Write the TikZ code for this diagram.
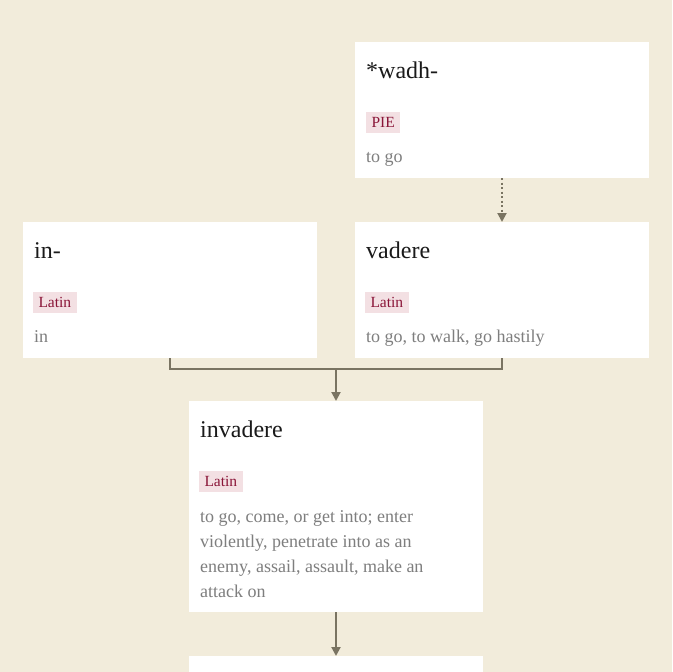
\documentclass[tikz,border=0pt]{standalone}
\usepackage{fontspec}
\setmainfont{Liberation Serif}
\usetikzlibrary{positioning,arrows.meta}

\definecolor{paper}{HTML}{F2ECDB}
\definecolor{inkdark}{HTML}{1A1A1A}
\definecolor{inkgray}{HTML}{7E7E7E}
\definecolor{tagfill}{HTML}{F3E0E3}
\definecolor{tagink}{HTML}{8A1538}
\definecolor{linkcol}{HTML}{7A7462}

\begin{document}
\begin{tikzpicture}[x=1pt,y=-1pt]

        % Define card and text styles
        \tikzstyle{card} = [rectangle, fill=white, anchor=north west, inner sep=0pt, outer sep=0pt, minimum width=294pt, minimum height=136pt]
        \tikzstyle{headword} = [anchor=base west, inner sep=0pt, text=inkdark, font=\fontsize{24}{28}\selectfont]
        \tikzstyle{lang} = [anchor=base west, fill=tagfill, text=tagink, inner xsep=5.5pt, inner ysep=0pt, outer sep=0pt, text height=15pt, text depth=6pt, font=\fontsize{15.5}{18}\selectfont]
        \tikzstyle{gloss} = [anchor=base west, inner sep=0pt, text=inkgray, font=\fontsize{18}{25}\selectfont]
        \tikzstyle{link} = [draw=linkcol, line width=2pt, -{Triangle[length=9pt,width=9pt]}]

        % Background
        \fill[paper] (0,0) rectangle (672,672);
        \useasboundingbox (0,0) rectangle (672,672);

        % Root card
        \node[card] (wadh) at (355,42) {};
        \node[headword] (wadhword) at ([xshift=11pt,yshift=-36pt]wadh.north west) {*wadh-};
        \node[lang] (wadhlang) at ([xshift=11pt,yshift=-85pt]wadh.north west) {PIE};
        \node[gloss] (wadhgloss) at ([xshift=11pt,yshift=-120pt]wadh.north west) {to go};

        % Latin cards
        \node[card] (in) at (23,222) {};
        \node[headword] (inword) at ([xshift=11pt,yshift=-36pt]in.north west) {in-};
        \node[lang] (inlang) at ([xshift=10pt,yshift=-85pt]in.north west) {Latin};
        \node[gloss] (ingloss) at ([xshift=11pt,yshift=-120pt]in.north west) {in};

        \node[card] (vadere) at (355,222) {};
        \node[headword] (vadereword) at ([xshift=11pt,yshift=-36pt]vadere.north west) {vadere};
        \node[lang] (vaderelang) at ([xshift=10pt,yshift=-85pt]vadere.north west) {Latin};
        \node[gloss] (vaderegloss) at ([xshift=11pt,yshift=-120pt]vadere.north west) {to go, to walk, go hastily};

        % Compound card
        \node[card, minimum height=211pt] (invadere) at (189,401) {};
        \node[headword] (invadereword) at ([xshift=11pt,yshift=-36pt]invadere.north west) {invadere};
        \node[lang] (invaderelang) at ([xshift=10pt,yshift=-85pt]invadere.north west) {Latin};
        \node[gloss] (invaderegloss) at ([xshift=11pt,yshift=-121pt]invadere.north west) {\vtop{\hbox{to go, come, or get into; enter}\hbox{violently, penetrate into as an}\hbox{enemy, assail, assault, make an}\hbox{attack on}}};

        % Next card (cut off)
        \node[card, minimum height=16pt] (next) at (189,656) {};

        % Connectors
        \draw[link, dotted, dash pattern=on 2pt off 2.5pt] (wadh.south) -- (vadere.north);
        \coordinate (join) at (336,369);
        \draw[link, -] (in.south) |- (join) -| (vadere.south);
        \draw[link] (join) -- (invadere.north);
        \draw[link] (invadere.south) -- (next.north);

    \end{tikzpicture}
\end{document}
